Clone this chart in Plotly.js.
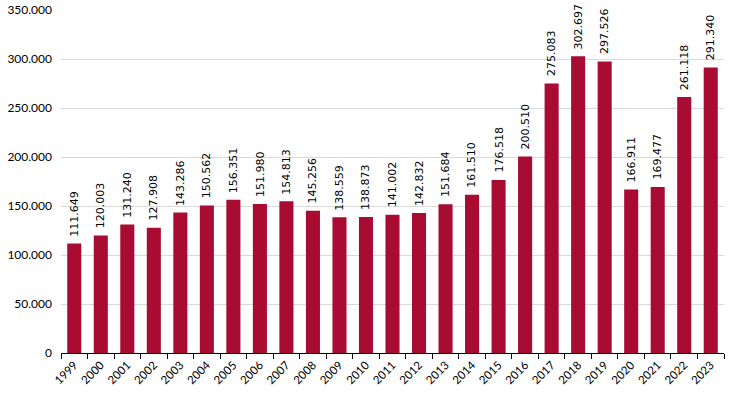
<!DOCTYPE html>
<html><head><meta charset="utf-8">
<script src="https://cdn.plot.ly/plotly-3.0.1.min.js"></script>
<style>body{margin:0;padding:0;background:#fff}#chart{width:732px;height:398px}</style>
</head><body><div id="chart"></div>
<script>
const years = ["1999","2000","2001","2002","2003","2004","2005","2006","2007","2008","2009","2010","2011","2012","2013","2014","2015","2016","2017","2018","2019","2020","2021","2022","2023"];
const values = [111649,120003,131240,127908,143286,150562,156351,151980,154813,145256,138559,138873,141002,142832,151684,161510,176518,200510,275083,302697,297526,166911,169477,261118,291340];
const tickVals = [0,50000,100000,150000,200000,250000,300000,350000];

const fmt = v => String(v).replace(/\B(?=(\d{3})+(?!\d))/g, '.');
const FONT = 'Lato, "Open Sans", sans-serif';

const annotations = years.map((yr, i) => ({
  x: i, y: values[i], xref: 'x', yref: 'y',
  text: fmt(values[i]), textangle: -90, showarrow: false,
  xanchor: 'center', yanchor: 'bottom', yshift: 5,
  font: {family: '"DejaVu Sans", Verdana, sans-serif', size: 11, color: '#000'}
}));

Plotly.newPlot('chart', [{
  type: 'bar', x: years, y: values,
  marker: {color: '#A80C33'},
  hoverinfo: 'none'
}], {
  width: 732, height: 398,
  margin: {l: 61, r: 8, t: 10, b: 45},
  separators: ',.',
  bargap: 0.47,
  showlegend: false,
  annotations: annotations,
  paper_bgcolor: '#fff', plot_bgcolor: '#fff',
  font: {family: FONT, size: 12, color: '#000'},
  xaxis: {type: 'category', range: [-0.5, years.length - 0.5], tickangle: -45, showline: true, linecolor: '#000', linewidth: 1,
    ticks: 'outside', tickson: 'boundaries', ticklen: 5, tickcolor: '#000', showgrid: false,
    tickfont: {size: 11.5, color: '#000'}},
  yaxis: {range: [0, 350000], tickvals: tickVals, tickformat: ',.0f', showgrid: true,
    gridcolor: '#d9d9d9', gridwidth: 1, zeroline: false, showline: false, ticks: '',
    ticklabelstandoff: 8, tickfont: {size: 12, color: '#000'}}
}, {displayModeBar: false, staticPlot: true});
</script></body></html>
